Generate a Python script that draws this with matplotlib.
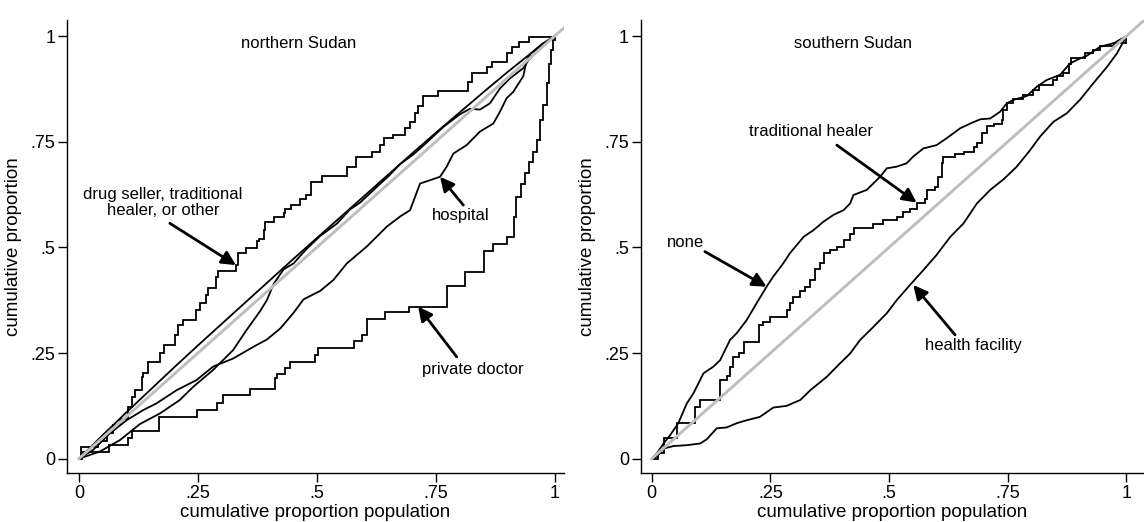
import matplotlib
matplotlib.use("Agg")
import matplotlib.pyplot as plt

plt.rcParams["font.family"] = ["Liberation Sans", "DejaVu Sans"]

# ---------------- northern Sudan ----------------
# drug seller, traditional healer, or other (step curve)
ds_x = [0, 0.004, 0.041, 0.058, 0.072, 0.086, 0.104, 0.111, 0.118, 0.132, 0.135, 0.146, 0.170, 0.179,
        0.202, 0.209, 0.219, 0.247, 0.254, 0.268, 0.272, 0.289, 0.293, 0.330, 0.335, 0.352, 0.374, 0.378,
        0.389, 0.392, 0.410, 0.430, 0.434, 0.445, 0.465, 0.477, 0.487, 0.510, 0.563, 0.582, 0.617, 0.633,
        0.641, 0.661, 0.685, 0.696, 0.706, 0.713, 0.724, 0.755, 0.818, 0.826, 0.857, 0.868, 0.899, 0.910,
        0.926, 0.945, 1.0]
ds_y = [0, 0.027, 0.043, 0.060, 0.080, 0.095, 0.123, 0.147, 0.162, 0.194, 0.202, 0.229, 0.249, 0.269,
        0.293, 0.316, 0.328, 0.352, 0.368, 0.387, 0.403, 0.431, 0.445, 0.458, 0.486, 0.499, 0.516, 0.521,
        0.541, 0.561, 0.573, 0.582, 0.592, 0.600, 0.614, 0.624, 0.654, 0.670, 0.691, 0.715, 0.726, 0.742,
        0.758, 0.766, 0.782, 0.797, 0.817, 0.834, 0.858, 0.871, 0.892, 0.912, 0.926, 0.939, 0.959, 0.973,
        0.987, 0.998, 1.0]

# private doctor (step curve)
pd_x = [0, 0.006, 0.064, 0.104, 0.111, 0.169, 0.249, 0.291, 0.303, 0.359, 0.412, 0.417, 0.433, 0.444,
        0.496, 0.503, 0.578, 0.594, 0.605, 0.643, 0.694, 0.773, 0.811, 0.851, 0.871, 0.899, 0.915, 0.919,
        0.929, 0.938, 0.945, 0.955, 0.962, 0.969, 0.976, 0.983, 0.989, 0.993, 0.997, 1.0]
pd_y = [0, 0.017, 0.032, 0.050, 0.066, 0.099, 0.115, 0.131, 0.151, 0.166, 0.192, 0.200, 0.214, 0.229,
        0.245, 0.263, 0.279, 0.293, 0.330, 0.346, 0.360, 0.409, 0.442, 0.492, 0.508, 0.525, 0.573, 0.620,
        0.651, 0.675, 0.703, 0.726, 0.754, 0.801, 0.837, 0.888, 0.935, 0.967, 0.991, 1.0]

# hospital
hosp_x = [0, 0.030, 0.065, 0.100, 0.135, 0.163, 0.205, 0.247, 0.282, 0.324, 0.367, 0.395, 0.423, 0.451,
          0.472, 0.507, 0.535, 0.563, 0.605, 0.647, 0.675, 0.696, 0.717, 0.738, 0.759, 0.773, 0.787, 0.815,
          0.843, 0.871, 0.885, 0.899, 0.913, 0.934, 0.941, 0.950, 0.973, 1.0]
hosp_y = [0, 0.021, 0.060, 0.091, 0.115, 0.131, 0.162, 0.186, 0.218, 0.237, 0.265, 0.282, 0.308, 0.345,
          0.377, 0.397, 0.423, 0.462, 0.502, 0.549, 0.573, 0.588, 0.651, 0.659, 0.667, 0.691, 0.722, 0.742,
          0.774, 0.793, 0.821, 0.853, 0.868, 0.905, 0.942, 0.959, 0.981, 1.0]

# two further provider groups lying close to the line of equality
series_a_x = [0, 0.05, 0.10, 0.15, 0.20, 0.25, 0.30, 0.35, 0.40, 0.45, 0.50, 0.55, 0.60, 0.65, 0.70,
              0.75, 0.80, 0.85, 0.90, 0.95, 1.0]
series_a_y = [0, 0.056, 0.110, 0.163, 0.216, 0.268, 0.319, 0.370, 0.421, 0.472, 0.522, 0.572, 0.622,
              0.672, 0.722, 0.771, 0.819, 0.867, 0.914, 0.959, 1.0]

series_b_x = [0, 0.044, 0.086, 0.128, 0.170, 0.212, 0.240, 0.282, 0.324, 0.352, 0.380, 0.395, 0.409,
              0.430, 0.451, 0.479, 0.507, 0.542, 0.570, 0.591, 0.626, 0.654, 0.675, 0.703, 0.731, 0.766,
              0.801, 0.822, 0.843, 0.864, 0.885, 0.906, 0.934, 0.945, 0.969, 1.0]
series_b_y = [0, 0.017, 0.044, 0.082, 0.107, 0.139, 0.170, 0.210, 0.257, 0.304, 0.348, 0.375, 0.413,
              0.448, 0.462, 0.497, 0.527, 0.556, 0.590, 0.606, 0.643, 0.672, 0.697, 0.720, 0.748, 0.785,
              0.815, 0.828, 0.826, 0.841, 0.876, 0.900, 0.924, 0.943, 0.971, 1.0]

# ---------------- southern Sudan ----------------
none_x = [0, 0.011, 0.025, 0.039, 0.056, 0.074, 0.088, 0.109, 0.130, 0.144, 0.165, 0.179, 0.200, 0.221,
          0.242, 0.256, 0.277, 0.291, 0.320, 0.341, 0.362, 0.383, 0.404, 0.418, 0.425, 0.453, 0.481, 0.495,
          0.516, 0.537, 0.551, 0.572, 0.600, 0.621, 0.650, 0.671, 0.692, 0.713, 0.734, 0.748, 0.762, 0.790,
          0.811, 0.832, 0.860, 0.881, 0.902, 0.916, 0.945, 0.973, 1.0]
none_y = [0, 0.013, 0.036, 0.056, 0.084, 0.131, 0.155, 0.202, 0.218, 0.233, 0.281, 0.297, 0.328, 0.368,
          0.407, 0.431, 0.462, 0.486, 0.525, 0.541, 0.561, 0.577, 0.588, 0.604, 0.624, 0.636, 0.667, 0.687,
          0.691, 0.699, 0.715, 0.734, 0.742, 0.758, 0.782, 0.793, 0.803, 0.805, 0.821, 0.841, 0.849, 0.858,
          0.880, 0.896, 0.908, 0.935, 0.947, 0.953, 0.975, 0.983, 1.0]

# traditional healer (step curve)
th_x = [0, 0.014, 0.025, 0.053, 0.091, 0.102, 0.144, 0.158, 0.165, 0.172, 0.183, 0.195, 0.227, 0.235,
        0.249, 0.284, 0.291, 0.298, 0.313, 0.323, 0.334, 0.345, 0.355, 0.362, 0.376, 0.390, 0.404, 0.418,
        0.426, 0.467, 0.488, 0.516, 0.530, 0.544, 0.558, 0.576, 0.579, 0.597, 0.604, 0.611, 0.614, 0.639,
        0.657, 0.678, 0.686, 0.695, 0.706, 0.720, 0.737, 0.741, 0.749, 0.761, 0.783, 0.804, 0.815, 0.846,
        0.853, 0.867, 0.878, 0.883, 0.913, 0.930, 0.945, 0.973, 1.0]
th_y = [0, 0.013, 0.048, 0.084, 0.123, 0.139, 0.186, 0.196, 0.218, 0.241, 0.251, 0.277, 0.316, 0.324,
        0.336, 0.352, 0.368, 0.383, 0.397, 0.407, 0.423, 0.448, 0.462, 0.486, 0.494, 0.502, 0.517, 0.532,
        0.545, 0.555, 0.565, 0.573, 0.584, 0.590, 0.606, 0.614, 0.636, 0.644, 0.667, 0.699, 0.713, 0.722,
        0.726, 0.738, 0.748, 0.770, 0.787, 0.793, 0.801, 0.825, 0.841, 0.850, 0.860, 0.872, 0.884, 0.896,
        0.905, 0.913, 0.935, 0.949, 0.959, 0.968, 0.976, 0.983, 1.0]

# health facility
hf_x = [0, 0.011, 0.025, 0.046, 0.074, 0.102, 0.116, 0.137, 0.158, 0.179, 0.200, 0.228, 0.256, 0.284,
        0.313, 0.334, 0.369, 0.397, 0.418, 0.439, 0.467, 0.495, 0.516, 0.544, 0.572, 0.600, 0.629, 0.657,
        0.685, 0.713, 0.741, 0.769, 0.797, 0.818, 0.846, 0.874, 0.902, 0.930, 0.959, 0.980, 1.0]
hf_y = [0, 0.005, 0.024, 0.030, 0.032, 0.036, 0.046, 0.072, 0.074, 0.084, 0.091, 0.099, 0.121, 0.125,
        0.139, 0.162, 0.194, 0.226, 0.249, 0.281, 0.312, 0.344, 0.375, 0.411, 0.446, 0.482, 0.525, 0.557,
        0.604, 0.636, 0.661, 0.691, 0.730, 0.762, 0.797, 0.817, 0.849, 0.888, 0.927, 0.959, 1.0]

ticks = [0, 0.25, 0.5, 0.75, 1]
tick_labels = ["0", ".25", ".5", ".75", "1"]
equality = [0, 1.2]

LINE = dict(color="black", lw=1.3, solid_joinstyle="miter")
GRAY = "#bebebe"
ARROW = dict(arrowstyle="-|>", color="black", lw=2.0, mutation_scale=21, shrinkA=0, shrinkB=0)
TXT = 12


def style_axes(ax, xmin, xmax):
    ax.set_xlim(xmin, xmax)
    ax.set_ylim(-0.0338, 1.038)
    for side in ("top", "right"):
        ax.spines[side].set_visible(False)
    for side in ("left", "bottom"):
        ax.spines[side].set_linewidth(1.0)
    ax.set_xticks(ticks)
    ax.set_xticklabels(tick_labels)
    ax.set_yticks(ticks)
    ax.set_yticklabels(tick_labels)
    ax.tick_params(direction="out", length=6.5, width=1.0, labelsize=13, pad=2)
    ax.set_xlabel("cumulative proportion population", fontsize=13.5, labelpad=1.5)
    ax.set_ylabel("cumulative proportion", fontsize=13.5, labelpad=6)


fig = plt.figure(figsize=(11.44, 5.22), dpi=100)

# left panel
ax1 = fig.add_axes([67 / 1144, 49 / 522, 496.7 / 1144, 453 / 522])
ax1.plot(ds_x, ds_y, drawstyle="steps-post", **LINE)
ax1.plot(pd_x, pd_y, drawstyle="steps-post", **LINE)
ax1.plot(hosp_x, hosp_y, **LINE)
ax1.plot(series_a_x, series_a_y, **LINE)
ax1.plot(series_b_x, series_b_y, **LINE)
ax1.plot(equality, equality, color=GRAY, lw=2.1, zorder=3)
style_axes(ax1, -0.0252, 1.019)
ax1.text(0.461, 0.983, "northern Sudan", ha="center", va="center", fontsize=TXT)
ax1.text(0.177, 0.606, "drug seller, traditional\nhealer, or other", ha="center", va="center",
         fontsize=TXT, linespacing=1.15)
ax1.annotate("", xy=(0.330, 0.458), xytext=(0.191, 0.557), arrowprops=ARROW)
ax1.text(0.803, 0.576, "hospital", ha="center", va="center", fontsize=TXT)
ax1.annotate("", xy=(0.759, 0.667), xytext=(0.808, 0.600), arrowprops=ARROW)
ax1.text(0.827, 0.211, "private doctor", ha="center", va="center", fontsize=TXT)
ax1.annotate("", xy=(0.713, 0.360), xytext=(0.794, 0.241), arrowprops=ARROW)

# right panel
ax2 = fig.add_axes([640.7 / 1144, 49 / 522, 503.3 / 1144, 453 / 522])
ax2.plot(none_x, none_y, **LINE)
ax2.plot(th_x, th_y, drawstyle="steps-post", **LINE)
ax2.plot(hf_x, hf_y, **LINE)
ax2.plot(equality, equality, color=GRAY, lw=2.1, zorder=3)
style_axes(ax2, -0.0232, 1.037)
ax2.text(0.423, 0.983, "southern Sudan", ha="center", va="center", fontsize=TXT)
ax2.text(0.072, 0.511, "none", ha="center", va="center", fontsize=TXT)
ax2.annotate("", xy=(0.242, 0.407), xytext=(0.112, 0.490), arrowprops=ARROW)
ax2.text(0.335, 0.775, "traditional healer", ha="center", va="center", fontsize=TXT)
ax2.annotate("", xy=(0.558, 0.606), xytext=(0.390, 0.742), arrowprops=ARROW)
ax2.text(0.678, 0.267, "health facility", ha="center", va="center", fontsize=TXT)
ax2.annotate("", xy=(0.551, 0.411), xytext=(0.639, 0.293), arrowprops=ARROW)

fig.savefig("out.png", dpi=100)
